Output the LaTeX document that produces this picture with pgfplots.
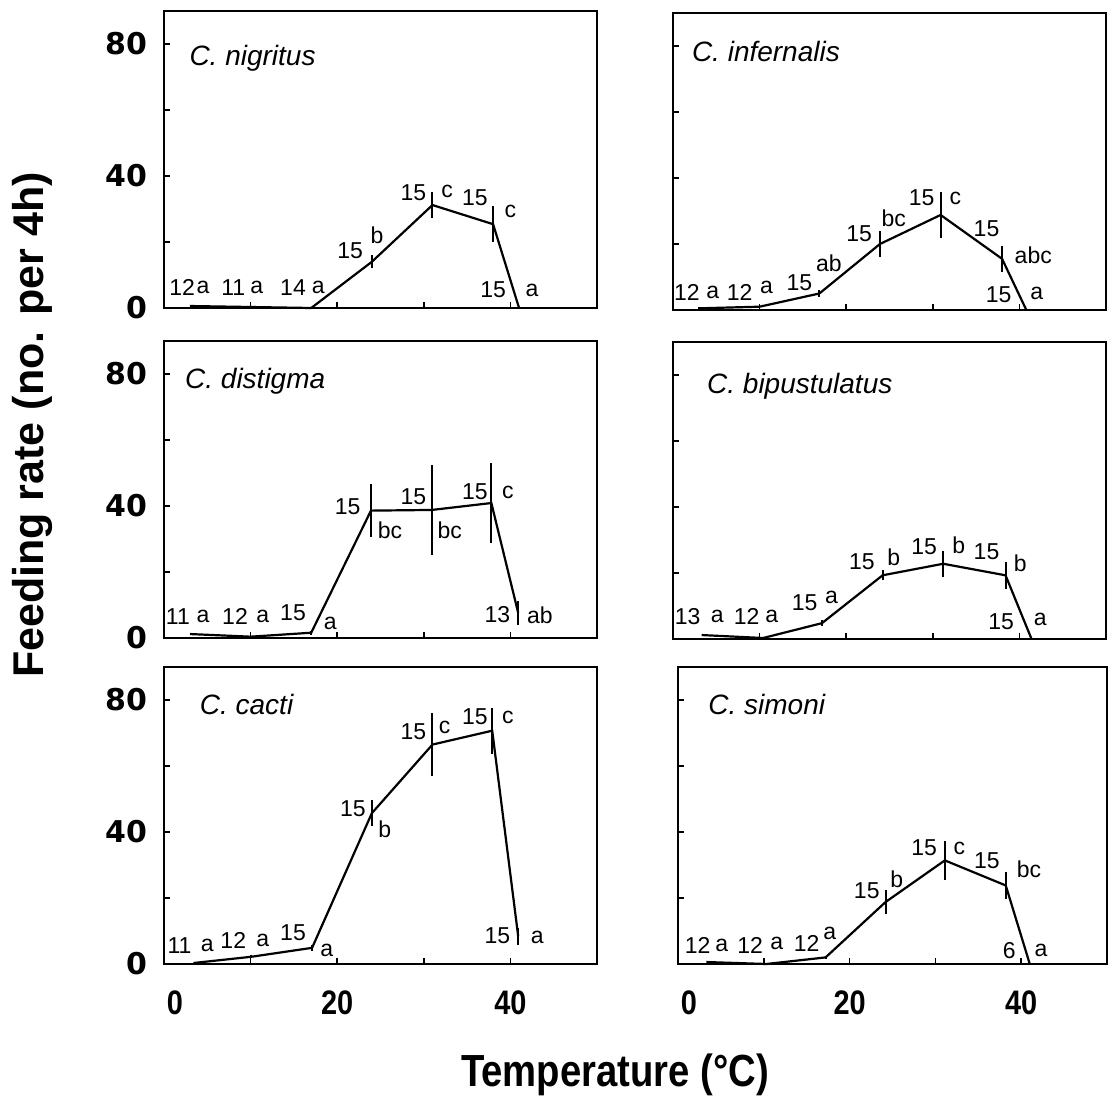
\documentclass[border=0pt]{standalone}
\usepackage{pgfplots}
\usepackage{pgfplotstable}
\pgfplotsset{compat=1.18}
\usepackage{fontspec}
\setmainfont{Liberation Sans}
\newfontfamily\djsans{DejaVu Sans}
\newfontfamily\condsans[FakeStretch=0.85]{Liberation Sans}

% T = temperature, F = feeding rate, E = error bar half length
\pgfplotstableread{
T F E
3 0.6 0
10 0.3 0
17 0 0
24 14 2
31 31.2 4
38 25.4 5.5
41 0 0
}\nigritus
\pgfplotstableread{
T F E
2.9 0.5 0
10 1 0
16.9 5 1
23.9 20 4
30.9 28.8 7
38 15.5 4
40.8 0 0
}\infernalis
\pgfplotstableread{
T F E
3 1.2 0
10 0.4 0
17 1.6 0.6
23.9 38.6 8
30.9 38.8 13.5
37.8 40.9 12
40.9 7.6 3.6
}\distigma
\pgfplotstableread{
T F E
3.3 1.2 0
10.4 0.3 0
17.2 4.8 1
24.2 19.3 1.5
31.2 22.8 4
38.4 19.3 4
41.4 0 0
}\bipustulatus
\pgfplotstableread{
T F E
3.4 0.3 0
10.1 2.2 0.5
17.1 4.9 1
24 45.7 4
31 66.5 9.5
37.9 70.7 7
40.9 8.4 2.5
}\cacti
\pgfplotstableread{
T F E
3.3 0.6 0
10.3 0 0
17.2 2 0.5
24.2 18.8 3.5
31.1 31.4 6
38.2 23.8 4
41 0 0
}\simoni

\pgfplotsset{
  panel/.style={
    scale only axis, width=216.5pt, height=148.5pt,
    xmin=0, xmax=50, ymin=0, ymax=90,
    axis line style={line width=1pt},
    tick pos=left, tick align=inside, major tick length=3pt,
    tick style={line width=0.8pt, black},
    xtick={0,10,20,30,40}, ytick={0,20,40,60,80},
    xticklabels={}, yticklabels={},
    /pgf/number format/assume math mode=true,
    clip=false, anchor=south west,
  },
  leftcol/.style={yticklabels={0,,40,,80},
    yticklabel style={font=\djsans\bfseries\fontsize{15}{17}\selectfont, xshift=-5pt}},
  bottomrow/.style={xticklabels={\hspace*{11pt}0,,20,,40},
    xticklabel style={font=\condsans\bfseries\fontsize{17}{19}\selectfont, yshift=-10pt}},
  curve/.style={line width=1.1pt, black, mark=none,
    error bars/.cd, y dir=both, y explicit, error mark=none,
    error bar style={line width=1pt}},
}
\tikzset{
  lab/.style={font=\fontsize{11.5}{13}\selectfont, inner sep=0pt},
  spec/.style={font=\itshape\fontsize{14}{16}\selectfont, anchor=base west, inner sep=0pt},
}

\begin{document}
\begin{tikzpicture}
\useasboundingbox (0,0) rectangle (556.5pt,-550.5pt);

% top left
\begin{axis}[panel, leftcol, at={(82pt,-154pt)}]
\addplot[curve] table[x=T, y=F, y error=E] {\nigritus};
\node[spec] at (axis cs:2.9,73.6) {C. nigritus};
\node[lab] at (axis cs:2.1,6.3) {12};
\node[lab] at (axis cs:4.5,6.3) {a};
\node[lab] at (axis cs:8.0,6.3) {11};
\node[lab] at (axis cs:10.7,6.3) {a};
\node[lab] at (axis cs:14.9,6.3) {14};
\node[lab] at (axis cs:17.8,6.3) {a};
\node[lab] at (axis cs:21.5,17.4) {15};
\node[lab] at (axis cs:24.6,21.9) {b};
\node[lab] at (axis cs:28.8,34.8) {15};
\node[lab] at (axis cs:32.7,35.4) {c};
\node[lab] at (axis cs:35.9,33.3) {15};
\node[lab] at (axis cs:40.0,29.4) {c};
\node[lab] at (axis cs:38.0,5.4) {15};
\node[lab] at (axis cs:42.5,5.4) {a};
\end{axis}

% top right
\begin{axis}[panel, at={(336.5pt,-155pt)}]
\addplot[curve] table[x=T, y=F, y error=E] {\infernalis};
\node[spec] at (axis cs:2.15,75.3) {C. infernalis};
\node[lab] at (axis cs:1.6,5.4) {12};
\node[lab] at (axis cs:4.6,5.4) {a};
\node[lab] at (axis cs:7.7,5.4) {12};
\node[lab] at (axis cs:10.8,6.9) {a};
\node[lab] at (axis cs:14.6,8.4) {15};
\node[lab] at (axis cs:18.0,14.1) {ab};
\node[lab] at (axis cs:21.5,23.1) {15};
\node[lab] at (axis cs:25.5,27.9) {bc};
\node[lab] at (axis cs:28.7,33.9) {15};
\node[lab] at (axis cs:32.6,33.9) {c};
\node[lab] at (axis cs:36.2,24.6) {15};
\node[lab] at (axis cs:41.6,16.5) {abc};
\node[lab] at (axis cs:37.6,4.5) {15};
\node[lab] at (axis cs:42.0,5.1) {a};
\end{axis}

% middle left
\begin{axis}[panel, leftcol, at={(82pt,-319pt)}]
\addplot[curve] table[x=T, y=F, y error=E] {\distigma};
\node[spec] at (axis cs:2.4,75.7) {C. distigma};
\node[lab] at (axis cs:1.6,6.4) {11};
\node[lab] at (axis cs:4.5,6.4) {a};
\node[lab] at (axis cs:8.2,6.4) {12};
\node[lab] at (axis cs:11.4,6.4) {a};
\node[lab] at (axis cs:14.9,7.6) {15};
\node[lab] at (axis cs:19.2,4.5) {a};
\node[lab] at (axis cs:21.2,39.7) {15};
\node[lab] at (axis cs:26.1,32.7) {bc};
\node[lab] at (axis cs:28.8,42.7) {15};
\node[lab] at (axis cs:33.0,32.7) {bc};
\node[lab] at (axis cs:35.9,44.2) {15};
\node[lab] at (axis cs:39.7,44.2) {c};
\node[lab] at (axis cs:38.5,7.0) {13};
\node[lab] at (axis cs:43.4,7.0) {ab};
\end{axis}

% middle right
\begin{axis}[panel, at={(336.5pt,-319.5pt)}]
\addplot[curve] table[x=T, y=F, y error=E] {\bipustulatus};
\node[spec] at (axis cs:3.9,74.5) {C. bipustulatus};
\node[lab] at (axis cs:1.7,6.7) {13};
\node[lab] at (axis cs:5.1,6.7) {a};
\node[lab] at (axis cs:8.5,6.7) {12};
\node[lab] at (axis cs:11.4,6.7) {a};
\node[lab] at (axis cs:15.2,10.9) {15};
\node[lab] at (axis cs:18.3,12.7) {a};
\node[lab] at (axis cs:21.8,23.3) {15};
\node[lab] at (axis cs:25.5,24.8) {b};
\node[lab] at (axis cs:29.0,27.9) {15};
\node[lab] at (axis cs:33.0,28.5) {b};
\node[lab] at (axis cs:36.2,26.4) {15};
\node[lab] at (axis cs:40.1,23.0) {b};
\node[lab] at (axis cs:37.9,5.2) {15};
\node[lab] at (axis cs:42.4,5.8) {a};
\end{axis}

% bottom left
\begin{axis}[panel, leftcol, bottomrow, at={(82pt,-482pt)}]
\addplot[curve] table[x=T, y=F, y error=E] {\cacti};
\node[spec] at (axis cs:4.1,75.5) {C. cacti};
\node[lab] at (axis cs:1.8,5.7) {11};
\node[lab] at (axis cs:5.0,5.7) {a};
\node[lab] at (axis cs:8.0,7.2) {12};
\node[lab] at (axis cs:11.4,7.2) {a};
\node[lab] at (axis cs:14.9,9.6) {15};
\node[lab] at (axis cs:18.8,4.2) {a};
\node[lab] at (axis cs:21.8,47.1) {15};
\node[lab] at (axis cs:25.5,40.8) {b};
\node[lab] at (axis cs:28.8,70.3) {15};
\node[lab] at (axis cs:32.4,71.8) {c};
\node[lab] at (axis cs:35.9,74.8) {15};
\node[lab] at (axis cs:39.7,74.8) {c};
\node[lab] at (axis cs:38.5,8.7) {15};
\node[lab] at (axis cs:43.1,8.1) {a};
\end{axis}

% bottom right
\begin{axis}[panel, bottomrow, width=214.5pt, at={(339pt,-482pt)}]
\addplot[curve] table[x=T, y=F, y error=E] {\simoni};
\node[spec] at (axis cs:3.5,75.5) {C. simoni};
\node[lab] at (axis cs:2.3,5.7) {12};
\node[lab] at (axis cs:5.1,5.7) {a};
\node[lab] at (axis cs:8.4,5.7) {12};
\node[lab] at (axis cs:11.5,6.3) {a};
\node[lab] at (axis cs:15.0,6.3) {12};
\node[lab] at (axis cs:17.7,9.3) {a};
\node[lab] at (axis cs:22.0,22.2) {15};
\node[lab] at (axis cs:25.5,25.8) {b};
\node[lab] at (axis cs:28.7,35.1) {15};
\node[lab] at (axis cs:32.8,35.1) {c};
\node[lab] at (axis cs:36.0,31.2) {15};
\node[lab] at (axis cs:40.9,28.8) {bc};
\node[lab] at (axis cs:38.6,4.2) {6};
\node[lab] at (axis cs:42.3,4.2) {a};
\end{axis}

\node[rotate=90, font=\bfseries\fontsize{21.5}{24}\selectfont] at (16pt,-212.5pt) {Feeding rate (no. per 4h)};
\node[font=\condsans\bfseries\fontsize{22.5}{25}\selectfont] at (307.5pt,-537.5pt) {Temperature (°C)};
\end{tikzpicture}
\end{document}
